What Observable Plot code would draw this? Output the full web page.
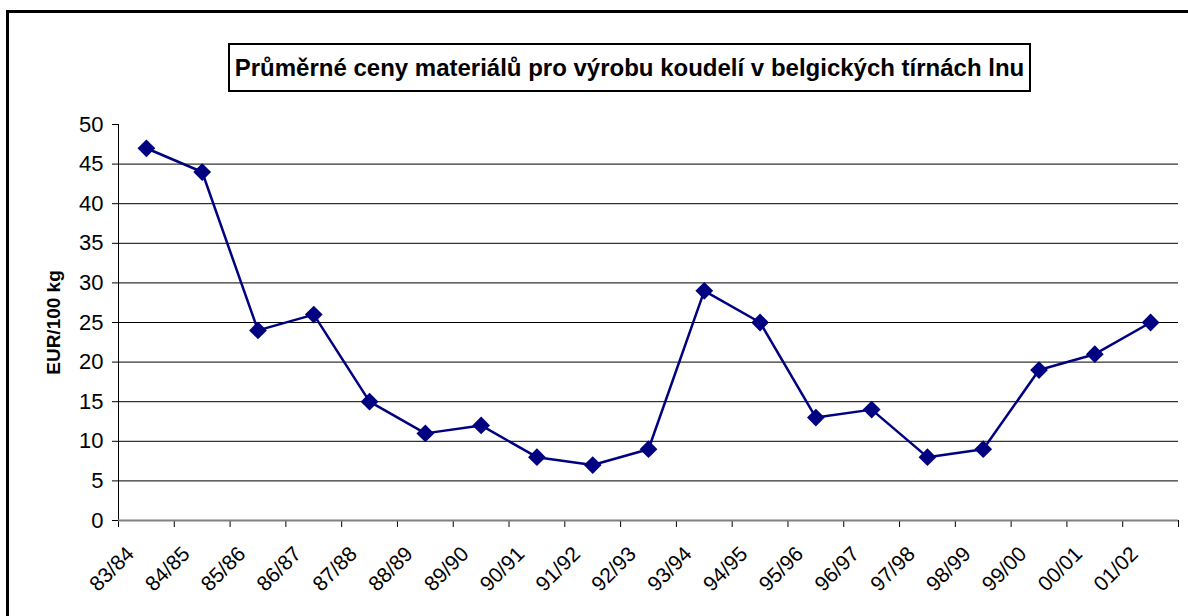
<!DOCTYPE html>
<html><head><meta charset="utf-8">
<script src="https://cdn.jsdelivr.net/npm/d3@7"></script>
<script src="https://cdn.jsdelivr.net/npm/@observablehq/plot@0.6"></script>
<style>
html,body{margin:0;padding:0;background:#fff;overflow:hidden;}
#wrap{position:relative;width:1188px;height:616px;overflow:hidden;font-family:"Liberation Sans",Arial,sans-serif;background:#fff;}
#frame{position:absolute;left:6px;top:10px;width:1300px;height:800px;border:3px solid #000;box-sizing:border-box;}
#title{position:absolute;left:228px;top:43px;width:803px;height:49px;border:2px solid #000;box-sizing:border-box;display:flex;align-items:center;justify-content:center;font-weight:bold;font-size:24px;background:#fff;color:#000;white-space:nowrap;}
#chart{position:absolute;left:0;top:0;}
</style></head>
<body><div id="wrap"><div id="frame"></div><div id="chart"></div><div id="title"></div></div>
<script>
const titleText = "Průměrné ceny materiálů pro výrobu koudelí v belgických tírnách lnu";
const yLabel = "EUR/100 kg";
const categories = ["83/84","84/85","85/86","86/87","87/88","88/89","89/90","90/91","91/92","92/93","93/94","94/95","95/96","96/97","97/98","98/99","99/00","00/01","01/02"];
const values = [47,44,24,26,15,11,12,8,7,9,29,25,13,14,8,9,19,21,25];
const yTicks = [0,5,10,15,20,25,30,35,40,45,50];
const gridValues = [5,10,15,20,25,30,35,40,45];

document.getElementById("title").textContent = titleText;

const data = categories.map((c, i) => ({cat: c, idx: i + 0.5, value: values[i]}));
const boundaries = d3.range(categories.length + 1);
const centers = categories.map((c, i) => i + 0.5);

const chart = Plot.plot({
  width: 1188,
  height: 616,
  marginLeft: 118,
  marginRight: 10,
  marginTop: 124,
  marginBottom: 96,
  x: {domain: [0, categories.length]},
  y: {domain: [0, 50]},
  style: {fontFamily: "'Liberation Sans', Arial, sans-serif", fontSize: "21px", color: "#000", background: "transparent"},
  marks: [
    Plot.ruleY(gridValues, {stroke: "#000", strokeWidth: 1}),
    Plot.axisY({ticks: yTicks, tickSize: 6, tickPadding: 9, label: null, fontSize: 22}),
    Plot.ruleX([0], {stroke: "#000", strokeWidth: 1}),
    Plot.axisX({ticks: boundaries, tickSize: 7, tickFormat: () => "", label: null}),
    Plot.axisX({ticks: centers, tickSize: 0, tickRotate: -45, tickPadding: 30, dx: -16, tickFormat: v => categories[Math.floor(v)], label: null, fontSize: 21}),
    Plot.ruleY([0], {stroke: "#808080", strokeWidth: 2}),
    Plot.line(data, {x: "idx", y: "value", stroke: "#000080", strokeWidth: 2.5}),
    Plot.dot(data, {x: "idx", y: "value", symbol: "diamond2", r: 8, fill: "#000080", stroke: "none"}),
    Plot.text([yLabel], {frameAnchor: "left", textAnchor: "middle", rotate: -90, dx: -65, fontWeight: "bold", fontSize: 19})
  ]
});
document.getElementById("chart").appendChild(chart);
</script>
</body></html>
